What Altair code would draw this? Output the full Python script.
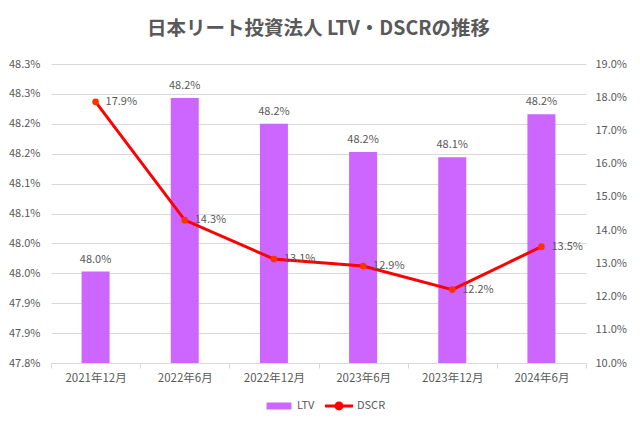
import json

import altair as alt
import pandas as pd

# Period labels and the two series (LTV on the left axis, DSCR on the right axis), in percent
PERIODS = ["2021年12月", "2022年6月", "2022年12月", "2023年6月", "2023年12月", "2024年6月"]
LTV = [47.953, 48.243, 48.200, 48.153, 48.144, 48.216]
DSCR = [17.86, 14.30, 13.13, 12.92, 12.21, 13.50]
SERIES = ["LTV", "DSCR"]

# Axis ticks and their printed labels
LTV_TICKS = [47.8, 47.85, 47.9, 47.95, 48.0, 48.05, 48.1, 48.15, 48.2, 48.25, 48.3]
LTV_TICK_LABELS = ["47.8%", "47.9%", "47.9%", "48.0%", "48.0%", "48.1%",
                   "48.1%", "48.2%", "48.2%", "48.3%", "48.3%"]
DSCR_TICKS = [10, 11, 12, 13, 14, 15, 16, 17, 18, 19]

TITLE = "日本リート投資法人 LTV・DSCRの推移"
FONT = "Noto Sans CJK JP"
TEXT_COLOR = "#595959"
GRID_COLOR = "#D9D9D9"
BAR_COLOR = "#CC66FF"
LINE_COLOR = "#FF0000"
DOT_COLOR = "#FF3300"

# Legend glyphs as unit-square SVG paths: a flat swatch and a line with a dot
LTV_GLYPH = "M-0.89,-0.25H0.89V0.25H-0.89Z"
DSCR_GLYPH = ("M-1,-0.11H1V0.11H-1Z "
              "M0.32,0A0.32,0.32,0,1,1,-0.32,0A0.32,0.32,0,1,1,0.32,0Z")

df = pd.DataFrame({
    "period": PERIODS,
    "ltv": LTV,
    "dscr": DSCR,
    "ltv_label": [f"{v:.1f}%" for v in LTV],
    "dscr_label": [f"{v:.1f}%" for v in DSCR],
})
legend_df = pd.DataFrame({"series": SERIES})

x_axis = alt.Axis(
    title=None, labelAngle=0, grid=False, domainColor=GRID_COLOR,
    tickColor=GRID_COLOR, tickBand="extent", tickSize=5, labelPadding=4,
    labelFontSize=11.5,
)
x_scale = alt.Scale(paddingInner=0, paddingOuter=0)


def x_enc():
    return alt.X("period:N", sort=PERIODS, scale=x_scale, axis=x_axis)


ltv_scale = alt.Scale(domain=[47.8, 48.3], zero=False, nice=False)
dscr_scale = alt.Scale(domain=[10, 19], zero=False, nice=False)

ltv_label_expr = f"{json.dumps(LTV_TICK_LABELS)}[round((datum.value - 47.8) / 0.05)]"
ltv_axis = alt.Axis(
    title=None, values=LTV_TICKS, labelExpr=ltv_label_expr,
    domain=False, ticks=False, labelPadding=11,
    grid=True, gridColor=GRID_COLOR,
)
dscr_axis = alt.Axis(
    orient="right", title=None, values=DSCR_TICKS,
    labelExpr="format(datum.value, '.1f') + '%'",
    domain=False, ticks=False, grid=False, labelPadding=9,
)


def ltv_y():
    return alt.Y("ltv:Q", scale=ltv_scale, axis=ltv_axis)


def dscr_y():
    return alt.Y("dscr:Q", scale=dscr_scale, axis=dscr_axis)


bars = alt.Chart(df).mark_bar(size=28, color=BAR_COLOR, clip=True).encode(
    x=x_enc(), y=ltv_y()
)
bar_text = alt.Chart(df).mark_text(
    dy=-7, baseline="bottom", fontSize=11, font=FONT, color=TEXT_COLOR
).encode(x=x_enc(), y=ltv_y(), text="ltv_label:N")

line = alt.Chart(df).mark_line(color=LINE_COLOR, strokeWidth=3).encode(
    x=x_enc(), y=dscr_y()
)
dots = alt.Chart(df).mark_point(filled=True, size=45, color=DOT_COLOR, opacity=1).encode(
    x=x_enc(), y=dscr_y()
)
line_text = alt.Chart(df).mark_text(
    align="left", dx=10, baseline="middle", fontSize=11, font=FONT, color=TEXT_COLOR
).encode(x=x_enc(), y=dscr_y(), text="dscr_label:N")

legend_props = dict(
    orient="none", legendX=214, legendY=328, direction="horizontal", title=None,
    symbolSize=784, symbolOpacity=1, symbolStrokeWidth=0, padding=0,
    labelFont=FONT, labelFontSize=11, labelColor=TEXT_COLOR,
    columnPadding=10, labelOffset=4,
)
legend_layer = alt.Chart(legend_df).mark_point(filled=True, opacity=0, size=784).encode(
    color=alt.Color(
        "series:N", sort=SERIES,
        scale=alt.Scale(domain=SERIES, range=[BAR_COLOR, LINE_COLOR]),
        legend=alt.Legend(**legend_props),
    ),
    shape=alt.Shape(
        "series:N", sort=SERIES,
        scale=alt.Scale(domain=SERIES, range=[LTV_GLYPH, DSCR_GLYPH]),
        legend=alt.Legend(**legend_props),
    ),
)

chart = alt.layer(
    alt.layer(bars, bar_text),
    alt.layer(line, dots, line_text),
    legend_layer,
).resolve_scale(
    y="independent"
).properties(
    width=535,
    height=299,
    autosize=alt.AutoSizeParams(type="none"),
    padding={"left": 51, "top": 64, "right": 54, "bottom": 64},
    title=alt.Title(
        TITLE, font=FONT, fontSize=19.5, fontWeight="bold", color=TEXT_COLOR,
        anchor="middle", frame="group", offset=19,
    ),
).configure_view(
    stroke=None
).configure_axis(
    labelFont=FONT, labelFontSize=11, labelColor=TEXT_COLOR
)

chart.save("out.html", embed_options={"renderer": "svg", "actions": False})
